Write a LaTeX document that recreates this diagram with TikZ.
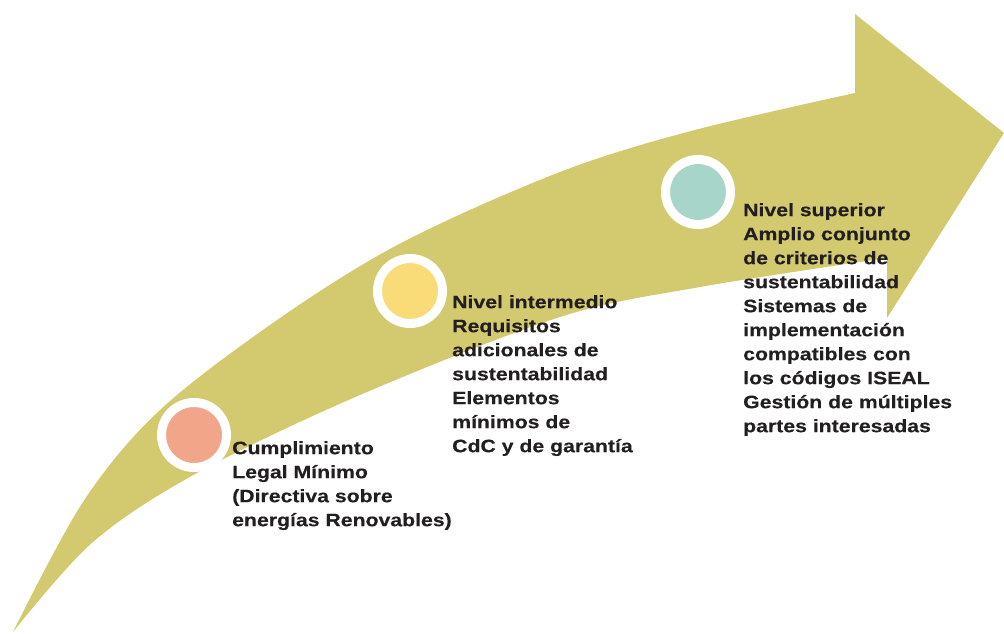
\documentclass[tikz,border=0pt]{standalone}
\usepackage{fontspec}
\setmainfont{Liberation Sans}[FakeStretch=1.18, FakeBold=0.3]
\definecolor{bandcol}{HTML}{D3C96E}
\definecolor{salmon}{HTML}{F2A689}
\definecolor{sunny}{HTML}{F9DB78}
\definecolor{mint}{HTML}{A7D5C9}
\definecolor{ink}{HTML}{231F20}
\tikzset{
  band/.style={fill=bandcol},
  dot/.style={circle, draw=white, line width=9pt, minimum size=65pt, inner sep=0pt},
  lbl/.style={anchor=north west, inner sep=0pt, align=left, text=ink,
    font=\fontsize{18}{24}\selectfont\bfseries},
}
\newcommand{\lstrut}{\rule{0pt}{14pt}}
\begin{document}
\begin{tikzpicture}[x=1pt,y=-1pt]
\useasboundingbox (0,0) rectangle (1004,634);
\fill[band] plot[smooth, tension=0.55] coordinates {(13,632) (83,502) (160,410) (280,318) (403,242) (560,172) (691,131) (855,93)}
  -- (855,14) -- (1004,133) -- (887,318)
  -- plot[smooth, tension=0.55] coordinates {(887,258) (700,287) (560,317) (360,395) (197,473) (93,542) (13,632)} -- cycle;
\node[dot, fill=salmon] (c1) at (194,435) {};
\node[dot, fill=sunny] (c2) at (410,291) {};
\node[dot, fill=mint] (c3) at (698,192) {};
\node[lbl] (t1) at (232,440) {\lstrut Cumplimiento\\ Legal Mínimo\\ (Directiva sobre\\ energías Renovables)};
\node[lbl] (t2) at (452,294) {\lstrut Nivel intermedio\\ Requisitos\\ adicionales de\\ sustentabilidad\\ Elementos\\ mínimos de\\ CdC y de garantía};
\node[lbl] (t3) at (743,202) {\lstrut Nivel superior\\ Amplio conjunto\\ de criterios de\\ sustentabilidad\\ Sistemas de\\ implementación\\ compatibles con\\ los códigos ISEAL\\ Gestión de múltiples\\ partes interesadas};
\end{tikzpicture}
\end{document}
